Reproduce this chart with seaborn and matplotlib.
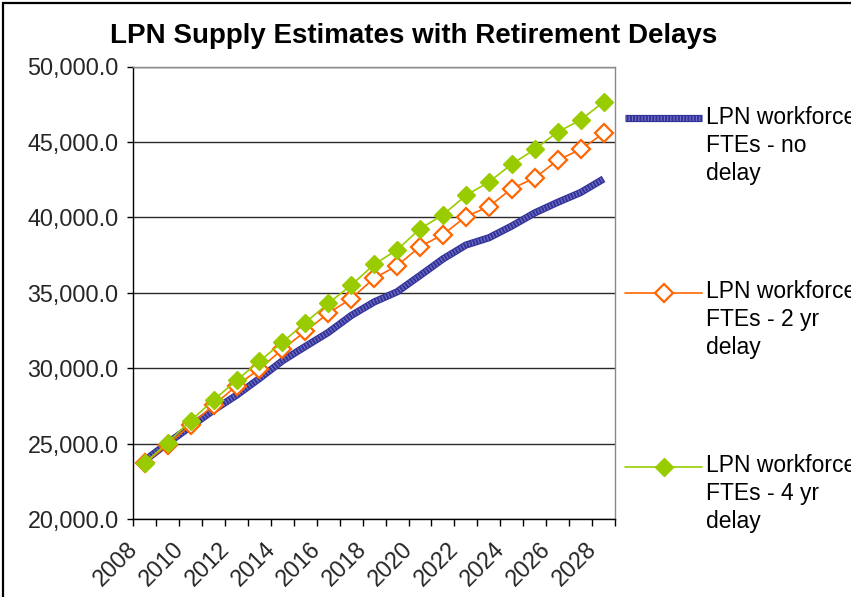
import numpy as np
import pandas as pd
import seaborn as sns
import matplotlib
matplotlib.use("Agg")
import matplotlib.pyplot as plt
from matplotlib.lines import Line2D
from matplotlib.patches import Rectangle
from matplotlib.ticker import FixedLocator, FuncFormatter
from matplotlib.transforms import ScaledTranslation

# ---------------- data ----------------
years = list(range(2008, 2029))
no_delay = [23900, 25050, 26150, 27230, 28220, 29330, 30500, 31450, 32380, 33500,
            34400, 35070, 36150, 37250, 38170, 38650, 39430, 40300, 41000, 41650, 42550]
delay_2yr = [23720, 24931, 26260, 27550, 28850, 29960, 31260, 32450, 33650, 34622,
             35970, 36800, 38070, 38860, 40060, 40715, 41910, 42610, 43790, 44511, 45573]
delay_4yr = [23720, 25085, 26530, 27900, 29200, 30480, 31730, 33030, 34310, 35504,
             36890, 37850, 39250, 40170, 41460, 42340, 43530, 44511, 45659, 46456, 47650]
series_labels = [
    ["LPN workforce", "FTEs - no", "delay"],
    ["LPN workforce", "FTEs - 2 yr", "delay"],
    ["LPN workforce", "FTEs - 4 yr", "delay"],
]
title = "LPN Supply Estimates with Retirement Delays"
xtick_labels = [str(y) for y in years[::2]]

BLUE = "#333399"
BLUE_LIGHT = "#7474C8"
ORANGE = "#FF6600"
GREEN = "#99CC00"
FS = 16.8

sns.set_theme(style="white")
plt.rcParams["font.family"] = ["Liberation Sans", "DejaVu Sans"]

W, H = 851, 597
fig = plt.figure(figsize=(W / 100, H / 100), dpi=100)
ax = fig.add_axes([133.3 / W, 1 - 519.3 / H, (615 - 133.3) / W, (519.3 - 66.5) / H])

df = pd.DataFrame({"idx": np.arange(len(years)), "year": years,
                   "no": no_delay, "d2": delay_2yr, "d4": delay_4yr})

# no delay: thick hatched blue line
sns.lineplot(data=df, x="idx", y="no", ax=ax, color=BLUE, linewidth=5.2,
             solid_capstyle="butt", zorder=3)
sns.lineplot(data=df, x="idx", y="no", ax=ax, color=BLUE_LIGHT, linewidth=3.6,
             zorder=3.1)
ax.lines[-1].set_dashes([0.22, 0.42])

sns.lineplot(data=df, x="idx", y="d2", ax=ax, color=ORANGE, linewidth=1.2,
             marker="D", markersize=9.5, markerfacecolor="white",
             markeredgecolor=ORANGE, markeredgewidth=1.6, zorder=4)
sns.lineplot(data=df, x="idx", y="d4", ax=ax, color=GREEN, linewidth=1.2,
             marker="D", markersize=9.5, markerfacecolor=GREEN,
             markeredgecolor=GREEN, markeredgewidth=1.0, zorder=5)

ax.set_xlim(-0.5, len(years) - 0.5)
ax.set_ylim(20000, 50000)
ax.set_xlabel("")
ax.set_ylabel("")

# y axis
ax.set_yticks(np.arange(20000, 50001, 5000))
ax.yaxis.set_major_formatter(FuncFormatter(lambda v, p: f"{v:,.1f}"))
ax.tick_params(axis="y", which="major", direction="out", length=4.5, width=1,
               color="black", labelsize=FS, pad=6, left=True)
ax.grid(axis="y", color="#2a2a2a", linewidth=1.0)
ax.grid(axis="x", visible=False)

# x axis: labels every two years at category centres, ticks at boundaries
ax.xaxis.set_major_locator(FixedLocator(list(range(0, len(years), 2))))
ax.set_xticklabels(xtick_labels, rotation=45, ha="right", va="top",
                   rotation_mode="anchor")
ax.tick_params(axis="x", which="major", length=0, labelsize=FS, pad=6)
shift = ScaledTranslation(-19 / 100, -10 / 100, fig.dpi_scale_trans)
for lab in ax.get_xticklabels():
    lab.set_transform(lab.get_transform() + shift)
ax.xaxis.set_minor_locator(FixedLocator(list(np.arange(-0.5, len(years), 1.0))))
ax.tick_params(axis="x", which="minor", direction="out", length=5, width=1,
               color="black", bottom=True)

for side in ["left", "bottom"]:
    ax.spines[side].set_color("black")
    ax.spines[side].set_linewidth(1.0)
for side in ["top", "right"]:
    ax.spines[side].set_color("#8a8a8a")
    ax.spines[side].set_linewidth(1.0)
ax.set_facecolor("white")

# title
fig.text(414 / W, 1 - 42.7 / H, title, ha="center", va="baseline",
         fontsize=20, fontweight="bold", color="black")

# legend (drawn at the right, like the Excel legend)
leg_y = [118.3, 292.7, 467.3]
base0 = [124, 298.3, 472.3]
pitch = 27.8
x0, x1 = 625 / W, 702 / W
for k, (yy, b0) in enumerate(zip(leg_y, base0)):
    fy = 1 - yy / H
    if k == 0:
        fig.add_artist(Line2D([x0, x1], [fy, fy], transform=fig.transFigure,
                              color=BLUE, linewidth=5.2, solid_capstyle="butt"))
        l2 = Line2D([x0, x1], [fy, fy], transform=fig.transFigure,
                    color=BLUE_LIGHT, linewidth=3.6)
        l2.set_dashes([0.22, 0.42])
        fig.add_artist(l2)
    elif k == 1:
        fig.add_artist(Line2D([x0, x1], [fy, fy], transform=fig.transFigure,
                              color=ORANGE, linewidth=1.2))
        fig.add_artist(Line2D([(x0 + x1) / 2], [fy], transform=fig.transFigure,
                              marker="D", markersize=9.5, markerfacecolor="white",
                              markeredgecolor=ORANGE, markeredgewidth=1.6,
                              linestyle="none"))
    else:
        fig.add_artist(Line2D([x0, x1], [fy, fy], transform=fig.transFigure,
                              color=GREEN, linewidth=1.2))
        fig.add_artist(Line2D([(x0 + x1) / 2], [fy], transform=fig.transFigure,
                              marker="D", markersize=9.5, markerfacecolor=GREEN,
                              markeredgecolor=GREEN, linestyle="none"))
    for j, line in enumerate(series_labels[k]):
        fig.text(706 / W, 1 - (b0 + j * pitch) / H, line, ha="left",
                 va="baseline", fontsize=16.5, color="black")

# chart-area frame (extends past the right / bottom edges as in the reference)
fig.add_artist(Rectangle((2.7 / W, -0.1), 1.2, 1 - 2.7 / H + 0.1,
                         transform=fig.transFigure, fill=False,
                         edgecolor="black", linewidth=1.6))

fig.savefig("out.png", dpi=100, facecolor="white")
